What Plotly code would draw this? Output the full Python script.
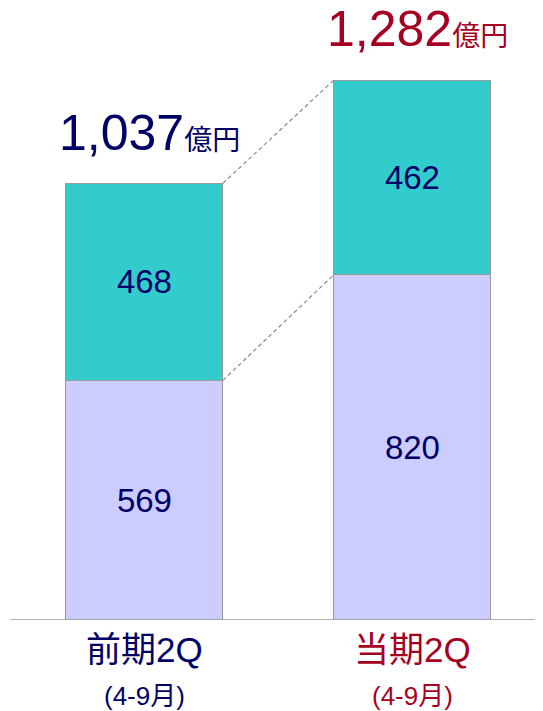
import plotly.graph_objects as go

periods = ["前期2Q", "当期2Q"]
sub_labels = ["(4-9月)", "(4-9月)"]
lower_vals = [569, 820]
upper_vals = [468, 462]
totals = [1037, 1282]
label_colors = ["#000066", "#A50021"]

FONT = "Arial, 'Liberation Sans', 'Noto Sans CJK JP', sans-serif"
BAR_W = 0.586
xs = [0, 1]

fig = go.Figure()
fig.add_trace(go.Bar(
    x=xs, y=lower_vals, width=BAR_W,
    marker=dict(color="#CCCCFF", line=dict(color="#999999", width=1)),
    text=[str(v) for v in lower_vals], textposition="inside",
    insidetextanchor="middle",
    textfont=dict(family=FONT, size=33, color="#000066"),
    hoverinfo="skip",
))
fig.add_trace(go.Bar(
    x=xs, y=upper_vals, width=BAR_W,
    marker=dict(color="#33CCCC", line=dict(color="#999999", width=1)),
    text=[str(v) for v in upper_vals], textposition="inside",
    insidetextanchor="middle",
    textfont=dict(family=FONT, size=33, color="#000066"),
    hoverinfo="skip",
))

# dashed connectors between the bars
for yy in (lower_vals, totals):
    fig.add_trace(go.Scatter(
        x=[xs[0] + BAR_W / 2, xs[1] - BAR_W / 2], y=yy, mode="lines",
        line=dict(color="#888888", width=1.2, dash="4px,3px"),
        hoverinfo="skip",
    ))

for i, x in enumerate(xs):
    c = label_colors[i]
    fig.add_annotation(
        x=x + 0.02, y=totals[i], yanchor="bottom", yshift=[20, 21][i], showarrow=False,
        text=f"{totals[i]:,}<span style='font-size:28px'>億円</span>",
        font=dict(family=FONT, size=50, color=c),
    )
    fig.add_annotation(
        x=x, y=0, yanchor="middle", yshift=-29, showarrow=False,
        text=periods[i], font=dict(family=FONT, size=35, color=c),
    )
    fig.add_annotation(
        x=x, y=0, yanchor="middle", yshift=-76, showarrow=False,
        text=sub_labels[i], font=dict(family=FONT, size=26, color=c),
    )

fig.add_shape(type="line", xref="paper", yref="y", x0=0.004, x1=1, y0=0, y1=0,
              line=dict(color="#999999", width=1.5))

fig.update_layout(
    width=543, height=711,
    margin=dict(l=0, r=0, t=0, b=99),
    barmode="stack", showlegend=False,
    plot_bgcolor="white", paper_bgcolor="white",
    xaxis=dict(range=[-0.509, 1.517], visible=False, fixedrange=True),
    yaxis=dict(range=[0, 1453], visible=False, fixedrange=True),
    uniformtext=dict(mode=False),
)
fig.write_html("out.html")
